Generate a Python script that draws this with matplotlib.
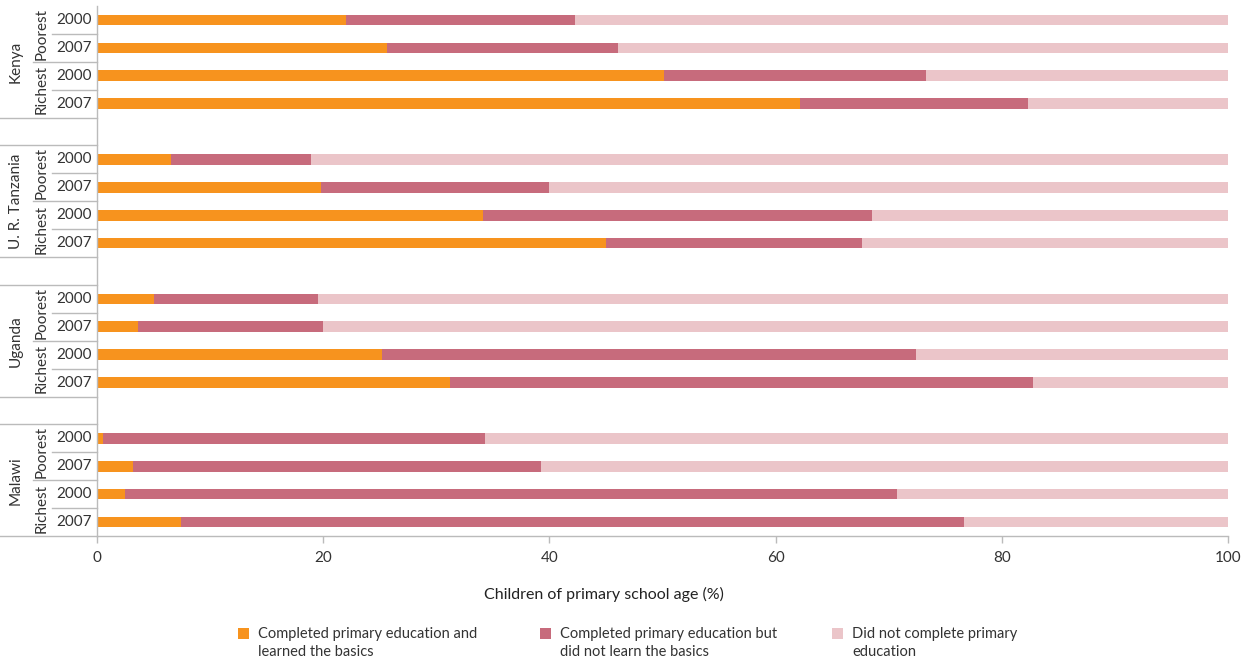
import matplotlib
matplotlib.use('Agg')
import matplotlib.pyplot as plt
import matplotlib.transforms as mtransforms
from matplotlib.lines import Line2D
from matplotlib.patches import Rectangle
import numpy as np

plt.rcParams['font.family'] = ['Lato', 'DejaVu Sans']

# Data (values in % of children of primary school age)
countries = ['Kenya', 'U. R. Tanzania', 'Uganda', 'Malawi']
quintiles = ['Poorest', 'Richest']
years = ['2000', '2007']

# per bar, order: Poorest 2000, Poorest 2007, Richest 2000, Richest 2007
learned = [
    [22.0, 25.6, 50.1, 62.2],
    [6.5, 19.8, 34.1, 45.0],
    [5.0, 3.6, 25.2, 31.2],
    [0.5, 3.2, 2.5, 7.4],
]
completed_any = [
    [42.3, 46.1, 73.3, 82.3],
    [18.9, 40.0, 68.5, 67.6],
    [19.5, 20.0, 72.4, 82.8],
    [34.3, 39.3, 70.7, 76.7],
]

legend_labels = ['Completed primary education and\nlearned the basics',
                 'Completed primary education but\ndid not learn the basics',
                 'Did not complete primary\neducation']
colors = ['#F7931E', '#C76B7C', '#EBC5C9']

W, H = 1242, 661
fig = plt.figure(figsize=(W / 100, H / 100), dpi=100)
ax = fig.add_axes([97 / W, 125 / H, 1131 / W, 530 / H])

bar_h = 0.38
for g, country in enumerate(countries):
    pos = np.arange(4) + g * 5
    a = np.array(learned[g])
    b = np.array(completed_any[g]) - a
    c = 100 - np.array(completed_any[g])
    ax.barh(pos, a, height=bar_h, color=colors[0])
    ax.barh(pos, b, left=a, height=bar_h, color=colors[1])
    ax.barh(pos, c, left=a + b, height=bar_h, color=colors[2])

ax.set_xlim(0, 100)
ax.set_ylim(18.5, -0.5)
ax.set_xticks([0, 20, 40, 60, 80, 100])
ax.tick_params(axis='x', colors='#BBBBBB', labelcolor='#333333', labelsize=11,
               length=5, width=1, pad=6)
ax.set_yticks([])
for s in ['top', 'right']:
    ax.spines[s].set_visible(False)
for s in ['left', 'bottom']:
    ax.spines[s].set_color('#BBBBBB')
    ax.spines[s].set_linewidth(1)
ax.set_xlabel('Children of primary school age (%)', fontsize=11.5, color='#222222')
ax.xaxis.set_label_coords((604 - 97) / 1131, -(587 - 536) / 530)

# multi-level category labels on the left
trans = mtransforms.blended_transform_factory(ax.transAxes, ax.transData)
px = 1 / 1131.0
x_year = -23 * px
x_quint = -55 * px
x_country = -81 * px
x_year_line = -45 * px
x_quint_line = -64 * px
x_group_line = -97 * px
line_kw = dict(color='#BBBBBB', lw=1, transform=trans, clip_on=False)

for g, country in enumerate(countries):
    base = g * 5
    for i in range(4):
        ax.text(x_year, base + i, years[i % 2], transform=trans, ha='center',
                va='center', fontsize=11, color='#333333')
    for q, quint in enumerate(quintiles):
        ax.text(x_quint, base + 2 * q + 0.5, quint, transform=trans, ha='center',
                va='center', rotation=90, fontsize=11, color='#333333')
    ax.text(x_country, base + 1.5, country, transform=trans, ha='center',
            va='center', rotation=90, fontsize=11, color='#333333')
    # separators
    ax.add_line(Line2D([x_year_line, 0], [base + 0.5] * 2, **line_kw))
    ax.add_line(Line2D([x_year_line, 0], [base + 2.5] * 2, **line_kw))
    ax.add_line(Line2D([x_quint_line, 0], [base + 1.5] * 2, **line_kw))
    ax.add_line(Line2D([x_group_line, 0], [base + 3.5] * 2, **line_kw))
    if g > 0:
        ax.add_line(Line2D([x_group_line, 0], [base - 0.5] * 2, **line_kw))

# legend drawn by hand to match positions
legend_x = [238, 540, 832]
for x0, col, lab in zip(legend_x, colors, legend_labels):
    fig.patches.append(Rectangle((x0 / W, 1 - 639 / H), 11 / W, 11 / H,
                                 transform=fig.transFigure, facecolor=col,
                                 edgecolor='none'))
    fig.text((x0 + 20) / W, 1 - 627 / H, lab, ha='left', va='top', fontsize=10.5,
             color='#333333', linespacing=1.35)

fig.savefig('out.png', dpi=100)
